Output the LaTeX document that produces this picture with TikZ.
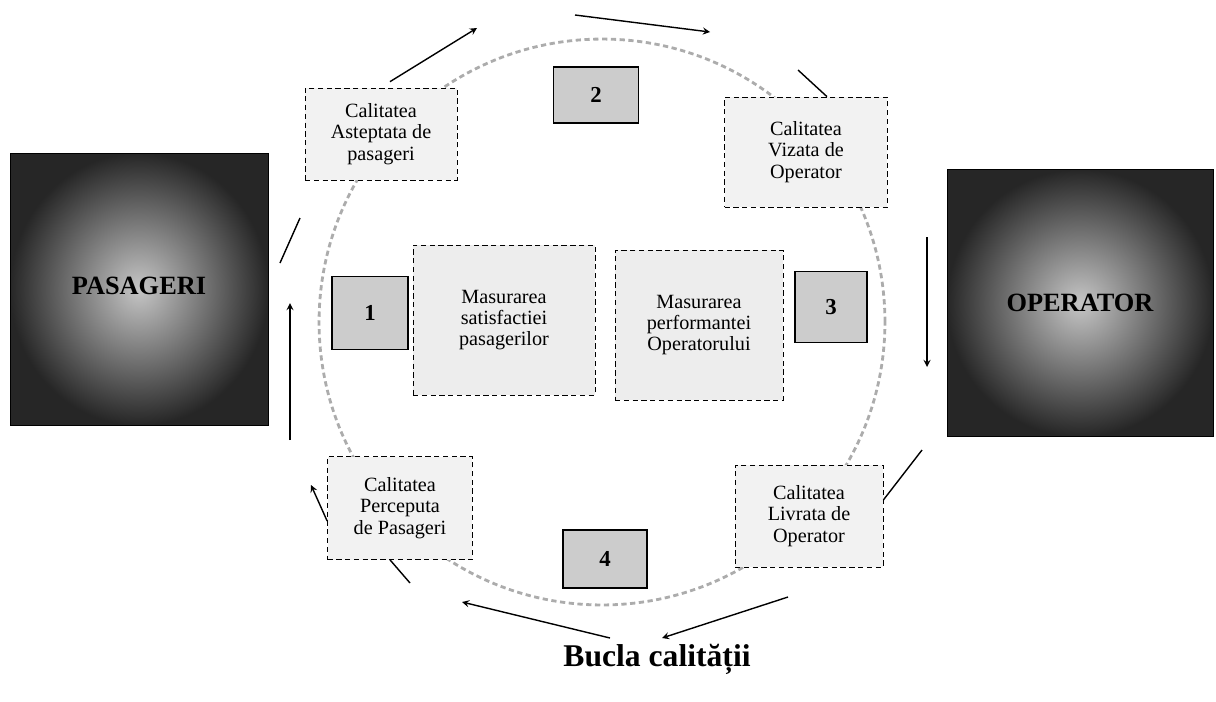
\documentclass[tikz,border=0pt]{standalone}
\usepackage{fontspec}
\setmainfont{Liberation Serif}
\usepackage{tikz}
\usetikzlibrary{arrows}
\tikzstyle{actor} = [rectangle, draw=black, inner color=gray!45, outer color=black!85, font=\fontsize{15}{18}\selectfont\bfseries]
\tikzstyle{quality} = [rectangle, align=center, draw=black, densely dashed, fill=gray!10, inner sep=1pt, font=\fontsize{11.5}{12.3}\selectfont]
\tikzstyle{measure} = [rectangle, align=center, draw=black, densely dashed, fill=gray!14, inner sep=1pt, font=\fontsize{11.5}{11.8}\selectfont]
\tikzstyle{num} = [rectangle, draw=black, line width=1pt, fill=gray!40, font=\fontsize{13}{13}\selectfont\bfseries]
\tikzstyle{ring} = [circle, draw=gray!65, line width=1.6pt, densely dashed, minimum size=11.32cm]
\tikzstyle{arrow} = [thick,->,>=stealth]
\tikzstyle{link} = [thick]

\begin{document}
\begin{tikzpicture}[x=0.02cm, y=-0.02cm]
    \useasboundingbox (0,0) rectangle (1216,701);

    % Loop
    \node (loopring) [ring] at (602,322) {};

    % Nodes
    \node (pas) [actor, minimum width=5.16cm, minimum height=5.44cm] at (139,289) {\raisebox{0.12cm}{PASAGERI}};
    \node (op) [actor, minimum width=5.32cm, minimum height=5.34cm] at (1080,303) {OPERATOR};

    \node (asteptata) [quality, minimum width=3.04cm, minimum height=1.84cm] at (381,134) {Calitatea\\Asteptata de\\pasageri};
    \node (vizata) [quality, minimum width=3.26cm, minimum height=2.2cm] at (806,152) {Calitatea\\Vizata de\\Operator};
    \node (livrata) [quality, minimum width=2.96cm, minimum height=2.04cm] at (809,516) {Calitatea\\Livrata de\\Operator};
    \node (perceputa) [quality, minimum width=2.9cm, minimum height=2.06cm] at (400,508) {Calitatea\\Perceputa\\de Pasageri};

    \node (satisf) [measure, minimum width=3.64cm, minimum height=3cm] at (504,320) {Masurarea\\satisfactiei\\pasagerilor};
    \node (perf) [measure, minimum width=3.36cm, minimum height=3cm] at (699,325) {Masurarea\\performantei\\Operatorului};

    \node (one) [num, minimum width=1.52cm, minimum height=1.46cm] at (370,313) {1};
    \node (two) [num, minimum width=1.7cm, minimum height=1.12cm] at (596,95) {2};
    \node (three) [num, minimum width=1.44cm, minimum height=1.42cm] at (831,307) {3};
    \node (four) [num, minimum width=1.68cm, minimum height=1.16cm] at (605,559) {4};

    \node (title) [font=\fontsize{18}{20}\selectfont\bfseries] at (657,659) {Bucla calității};

    % Free ends of the arrows
    \coordinate (p1) at (477,28);
    \coordinate (p2) at (575,15);
    \coordinate (p3) at (710,32);
    \coordinate (p4) at (798,70);
    \coordinate (p5) at (927,237);
    \coordinate (p6) at (927,367);
    \coordinate (p7) at (922,450);
    \coordinate (p8) at (788,597);
    \coordinate (p9) at (662,638);
    \coordinate (p10) at (610,638);
    \coordinate (p11) at (462,602);
    \coordinate (p12) at (410,583);
    \coordinate (p13) at (311,485);
    \coordinate (p14) at (290,440);
    \coordinate (p15) at (290,303);
    \coordinate (p16) at (280,263);
    \coordinate (p17) at (300,218);

    % Arrows
    \draw [arrow] ([xshift=0.18cm, yshift=0.12cm]asteptata.north) -- (p1);
    \draw [arrow] (p2) -- (p3);
    \draw [link] (p4) -- ([xshift=0.42cm]vizata.north);
    \draw [arrow] (p5) -- (p6);
    \draw [link] (p7) -- ([yshift=0.32cm]livrata.east);
    \draw [arrow] (p8) -- (p9);
    \draw [arrow] (p10) -- (p11);
    \draw [link] ([xshift=-0.2cm]perceputa.south) -- (p12);
    \draw [arrow] ([yshift=-0.26cm]perceputa.west) -- (p13);
    \draw [arrow] (p14) -- (p15);
    \draw [link] (p16) -- (p17);
\end{tikzpicture}
\end{document}
